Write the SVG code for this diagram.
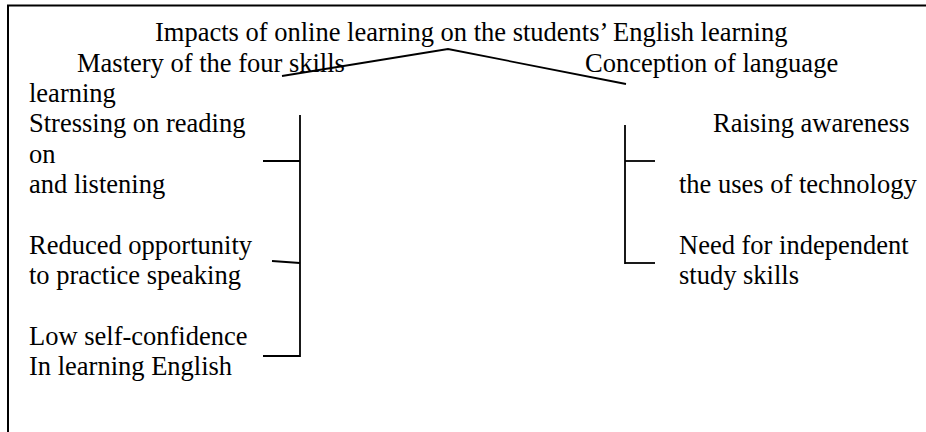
<svg xmlns="http://www.w3.org/2000/svg" width="926" height="432" viewBox="0 0 926 432">
<style>
  .t { font-family: "Liberation Serif", "Times New Roman", serif; font-size: 26.5px; fill: #000; }
  .ln { stroke: #000; stroke-width: 1.8; fill: none; }
  .frame { stroke: #000; stroke-width: 2; fill: none; }
</style>
<rect width="926" height="432" fill="#fff"/>
<path class="frame" d="M8,432 V5.5 H926"/>
<g id="title">
  <text class="t" x="155" y="41">Impacts of online learning on the students’ English learning</text>
</g>
<g id="mastery">
  <text class="t" x="77" y="71.5">Mastery of the four skills</text>
  <text class="t" x="29" y="102">learning</text>
</g>
<g id="conception">
  <text class="t" x="585" y="71.5">Conception of language</text>
</g>
<g id="stressing">
  <text class="t" x="29" y="132">Stressing on reading</text>
  <text class="t" x="29" y="162.5">on</text>
  <text class="t" x="29" y="192.5">and listening</text>
</g>
<g id="reduced">
  <text class="t" x="29" y="253.5">Reduced opportunity</text>
  <text class="t" x="29" y="284">to practice speaking</text>
</g>
<g id="low-confidence">
  <text class="t" x="29" y="344.5">Low self-confidence</text>
  <text class="t" x="29" y="375">In learning English</text>
</g>
<g id="raising">
  <text class="t" x="713" y="132">Raising awareness</text>
  <text class="t" x="679" y="193">the uses of technology</text>
</g>
<g id="independent">
  <text class="t" x="679" y="254">Need for independent</text>
  <text class="t" x="679" y="284">study skills</text>
</g>
<g id="connectors">
  <polyline class="ln" points="282,76 448,49 626,84"/>
  <line class="ln" x1="300" y1="115" x2="300" y2="357"/>
  <line class="ln" x1="263" y1="161" x2="300" y2="161"/>
  <line class="ln" x1="272" y1="261" x2="300" y2="263"/>
  <line class="ln" x1="263" y1="356" x2="300" y2="356"/>
  <line class="ln" x1="625" y1="125" x2="625" y2="264"/>
  <line class="ln" x1="625" y1="161" x2="655" y2="161"/>
  <line class="ln" x1="625" y1="263" x2="655" y2="263"/>
</g>
</svg>
